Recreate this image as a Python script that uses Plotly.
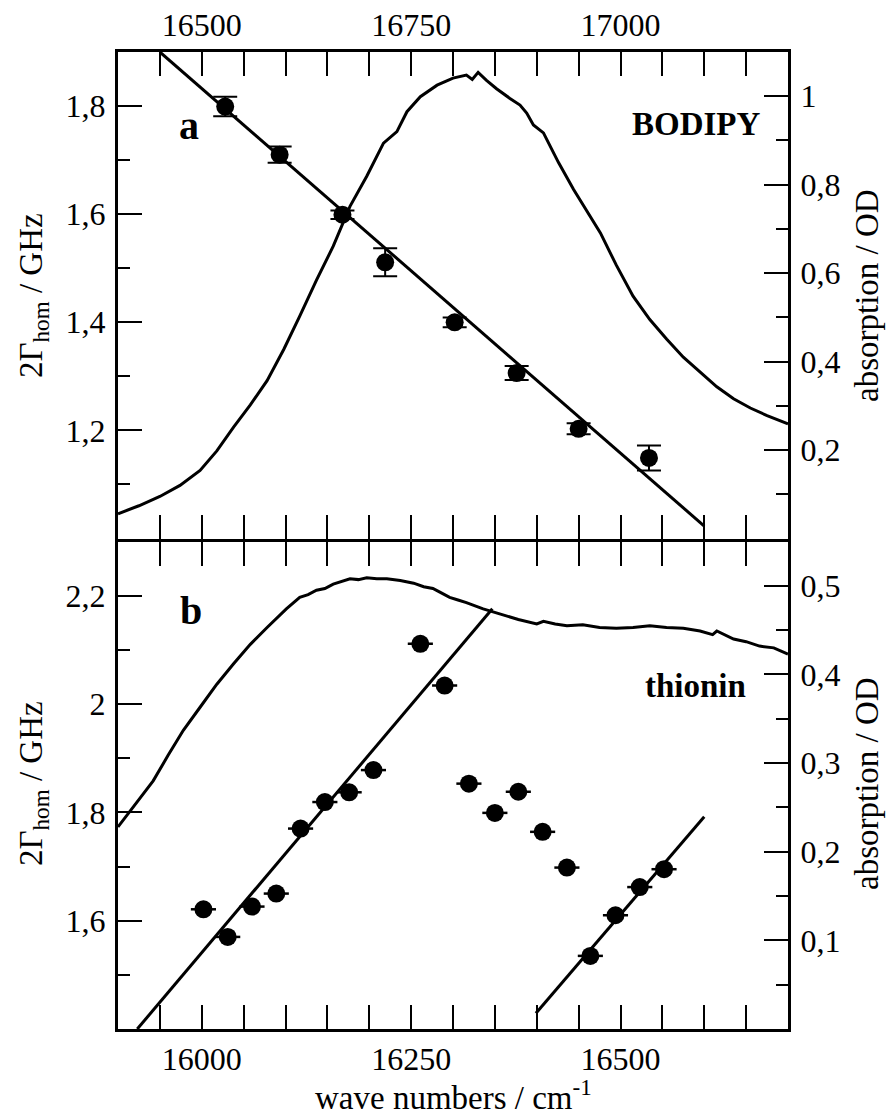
import plotly.graph_objects as go

# ---------------- data ----------------
# Panel a (BODIPY), top axis wave numbers
bodipy_wn = [16528, 16593, 16668, 16719, 16802, 16876, 16950, 17034]
bodipy_gamma = [1.799, 1.710, 1.599, 1.511, 1.400, 1.306, 1.203, 1.149]
bodipy_err = [0.018, 0.015, 0.008, 0.026, 0.009, 0.013, 0.010, 0.023]
bodipy_fit_wn = [16450, 17100]
bodipy_fit_gamma = [1.900, 1.023]
bodipy_abs_wn = [16400, 16425, 16450, 16474, 16498, 16518, 16538, 16558, 16578, 16598,
                 16617, 16637, 16657, 16677, 16697, 16717,
                 16733, 16745, 16761, 16781, 16800, 16816, 16823, 16830, 16840, 16852,
                 16868, 16880, 16888, 16896, 16908, 16926, 16944, 16960, 16976, 16995,
                 17015, 17035, 17055, 17075, 17095, 17115, 17135, 17155, 17175, 17200]
bodipy_abs = [0.056, 0.074, 0.095, 0.120, 0.154, 0.198, 0.252, 0.302, 0.357, 0.428,
              0.503, 0.584, 0.661, 0.751, 0.819, 0.894,
              0.920, 0.965, 0.999, 1.025, 1.041, 1.048, 1.038, 1.054, 1.036, 1.017,
              0.995, 0.980, 0.962, 0.935, 0.917, 0.850, 0.789, 0.740, 0.691, 0.618,
              0.548, 0.495, 0.451, 0.410, 0.376, 0.343, 0.316, 0.295, 0.278, 0.259]

# Panel b (thionin), bottom axis wave numbers
thio_wn = [16002, 16031, 16060, 16089, 16118, 16147, 16176, 16205, 16261, 16290,
           16319, 16350, 16378, 16407, 16436, 16464, 16494, 16523, 16552]
thio_gamma = [1.621, 1.570, 1.626, 1.650, 1.770, 1.819, 1.837, 1.878, 2.111, 2.034,
              1.853, 1.799, 1.838, 1.764, 1.698, 1.535, 1.610, 1.662, 1.695]
thio_xerr = [15] * len(thio_wn)
thio_fit1_wn = [15923, 16347]
thio_fit1_gamma = [1.400, 2.176]
thio_fit2_wn = [16399, 16600]
thio_fit2_gamma = [1.429, 1.792]
thio_abs_wn = [15900, 15921, 15942, 15960, 15978, 15998, 16018, 16038, 16058, 16078,
               16090, 16101, 16117, 16127, 16137, 16147, 16157, 16167, 16177, 16187,
               16197, 16209, 16221, 16237, 16253, 16265, 16276, 16286, 16296, 16306,
               16316, 16336, 16356, 16378, 16400, 16408, 16422, 16436, 16455, 16475,
               16495, 16515, 16535, 16555, 16575, 16595, 16610, 16615, 16635, 16650,
               16666, 16683, 16700]
thio_abs = [0.228, 0.254, 0.280, 0.309, 0.337, 0.363, 0.389, 0.412, 0.434, 0.453,
            0.464, 0.474, 0.487, 0.490, 0.495, 0.497, 0.502, 0.505, 0.508, 0.507,
            0.509, 0.508, 0.508, 0.506, 0.503, 0.499, 0.497, 0.492, 0.487, 0.484,
            0.481, 0.474, 0.468, 0.462, 0.457, 0.460, 0.457, 0.455, 0.456, 0.453,
            0.452, 0.453, 0.455, 0.453, 0.452, 0.449, 0.445, 0.449, 0.440, 0.437,
            0.432, 0.430, 0.423]

# ticks
xb_major = [16000, 16250, 16500]
xb_text = ["16000", "16250", "16500"]
xb_minor = [15950, 16050, 16100, 16150, 16200, 16300, 16350, 16400, 16450, 16550, 16600, 16650]
xt_major = [16500, 16750, 17000]
xt_text = ["16500", "16750", "17000"]
xt_minor = [16450, 16550, 16600, 16650, 16700, 16800, 16850, 16900, 16950, 17050, 17100, 17150]
ya_major = [1.2, 1.4, 1.6, 1.8]
ya_text = ["1,2", "1,4", "1,6", "1,8"]
ya_minor = [1.1, 1.3, 1.5, 1.7]
ya2_major = [0.2, 0.4, 0.6, 0.8, 1.0]
ya2_text = ["0,2", "0,4", "0,6", "0,8", "1"]
ya2_minor = [0.1, 0.3, 0.5, 0.7, 0.9]
yb_major = [1.6, 1.8, 2.0, 2.2]
yb_text = ["1,6", "1,8", "2", "2,2"]
yb_minor = [1.5, 1.7, 1.9, 2.1]
yb2_major = [0.1, 0.2, 0.3, 0.4, 0.5]
yb2_text = ["0,1", "0,2", "0,3", "0,4", "0,5"]
yb2_minor = [0.05, 0.15, 0.25, 0.35, 0.45]

FONT = "Liberation Serif"
TICKFS = 32
LW = 3

fig = go.Figure()

# Panel a
fig.add_trace(go.Scatter(x=bodipy_abs_wn, y=bodipy_abs, xaxis="x2", yaxis="y2",
                         mode="lines", line=dict(color="black", width=LW)))
fig.add_trace(go.Scatter(x=bodipy_fit_wn, y=bodipy_fit_gamma, xaxis="x2", yaxis="y",
                         mode="lines", line=dict(color="black", width=LW)))
fig.add_trace(go.Scatter(x=bodipy_wn, y=bodipy_gamma, xaxis="x2", yaxis="y",
                         mode="markers", marker=dict(color="black", size=18),
                         error_y=dict(type="data", array=bodipy_err, color="black",
                                      thickness=2, width=12)))
# Panel b
fig.add_trace(go.Scatter(x=thio_abs_wn, y=thio_abs, xaxis="x", yaxis="y4",
                         mode="lines", line=dict(color="black", width=LW)))
fig.add_trace(go.Scatter(x=thio_fit1_wn, y=thio_fit1_gamma, xaxis="x", yaxis="y3",
                         mode="lines", line=dict(color="black", width=LW)))
fig.add_trace(go.Scatter(x=thio_fit2_wn, y=thio_fit2_gamma, xaxis="x", yaxis="y3",
                         mode="lines", line=dict(color="black", width=LW)))
fig.add_trace(go.Scatter(x=thio_wn, y=thio_gamma, xaxis="x", yaxis="y3",
                         mode="markers", marker=dict(color="black", size=18),
                         error_x=dict(type="data", array=thio_xerr, color="black",
                                      thickness=2.5, width=0)))

def axstyle(standoff=0, **kw):
    d = dict(showline=True, linecolor="black", linewidth=LW, ticks="inside",
             ticklen=24, tickwidth=2, tickcolor="black", showgrid=False, zeroline=False,
             tickfont=dict(family=FONT, size=TICKFS, color="black"),
             ticklabelstandoff=standoff, automargin=False)
    d.update(kw)
    return d

def minor(vals):
    return dict(tickmode="array", tickvals=vals, ticks="inside",
                ticklen=12, tickwidth=2, tickcolor="black")

DA = [(1029 - 538.5) / 977.0, 1.0]
DB = [0.0, (1029 - 541.5) / 977.0]

fig.update_layout(
    width=886, height=1116,
    margin=dict(l=118, r=98, t=52, b=87, autoexpand=False),
    paper_bgcolor="white", plot_bgcolor="white",
    showlegend=False,
    xaxis=axstyle(domain=[0, 1], anchor="y3", range=[15900, 16700],
                  tickmode="array", tickvals=xb_major, ticktext=xb_text,
                  minor=minor(xb_minor), mirror="allticks"),
    xaxis2=axstyle(domain=[0, 1], anchor="y", side="top", range=[16400, 17200],
                   tickmode="array", tickvals=xt_major, ticktext=xt_text,
                   minor=minor(xt_minor), mirror="allticks"),
    yaxis=axstyle(standoff=3, domain=DA, anchor="x2", range=[1.0, 1.9],
                  tickmode="array", tickvals=ya_major, ticktext=ya_text,
                  minor=minor(ya_minor)),
    yaxis2=axstyle(standoff=3, overlaying="y", anchor="x2", side="right", range=[0, 1.1],
                   tickmode="array", tickvals=ya2_major, ticktext=ya2_text,
                   minor=minor(ya2_minor)),
    yaxis3=axstyle(standoff=3, domain=DB, anchor="x", range=[1.4, 2.3],
                   tickmode="array", tickvals=yb_major, ticktext=yb_text,
                   minor=minor(yb_minor)),
    yaxis4=axstyle(standoff=3, overlaying="y3", anchor="x", side="right", range=[0, 0.55],
                   tickmode="array", tickvals=yb2_major, ticktext=yb2_text,
                   minor=minor(yb2_minor)),
)

def ann(text, x, y, size, bold=False, angle=0, xanchor="center", yanchor="middle"):
    fig.add_annotation(text=("<b>%s</b>" % text) if bold else text,
                       xref="paper", yref="paper", x=x, y=y, showarrow=False,
                       textangle=angle, xanchor=xanchor, yanchor=yanchor,
                       font=dict(family=FONT, size=size, color="black"))

PW, PH = 670.0, 977.0
def px(xp): return (xp - 118) / PW
def py(yp): return (1029 - yp) / PH

ann("a", px(189), py(126), 40, bold=True)
ann("BODIPY", px(696), py(124), 33, bold=True)
ann("b", px(191), py(610), 40, bold=True)
ann("thionin", px(695), py(686), 33, bold=True)

ann("2Γ<sub>hom</sub> / GHz", px(33), py(296), 33, angle=-90)
ann("2Γ<sub>hom</sub> / GHz", px(33), py(784), 33, angle=-90)
ann("absorption / OD", px(867), py(296), 33, angle=-90)
ann("absorption / OD", px(867), py(784), 33, angle=-90)
ann("wave numbers / cm<sup>-1</sup>", px(453), py(1095), 33)

fig.write_html("out.html")
